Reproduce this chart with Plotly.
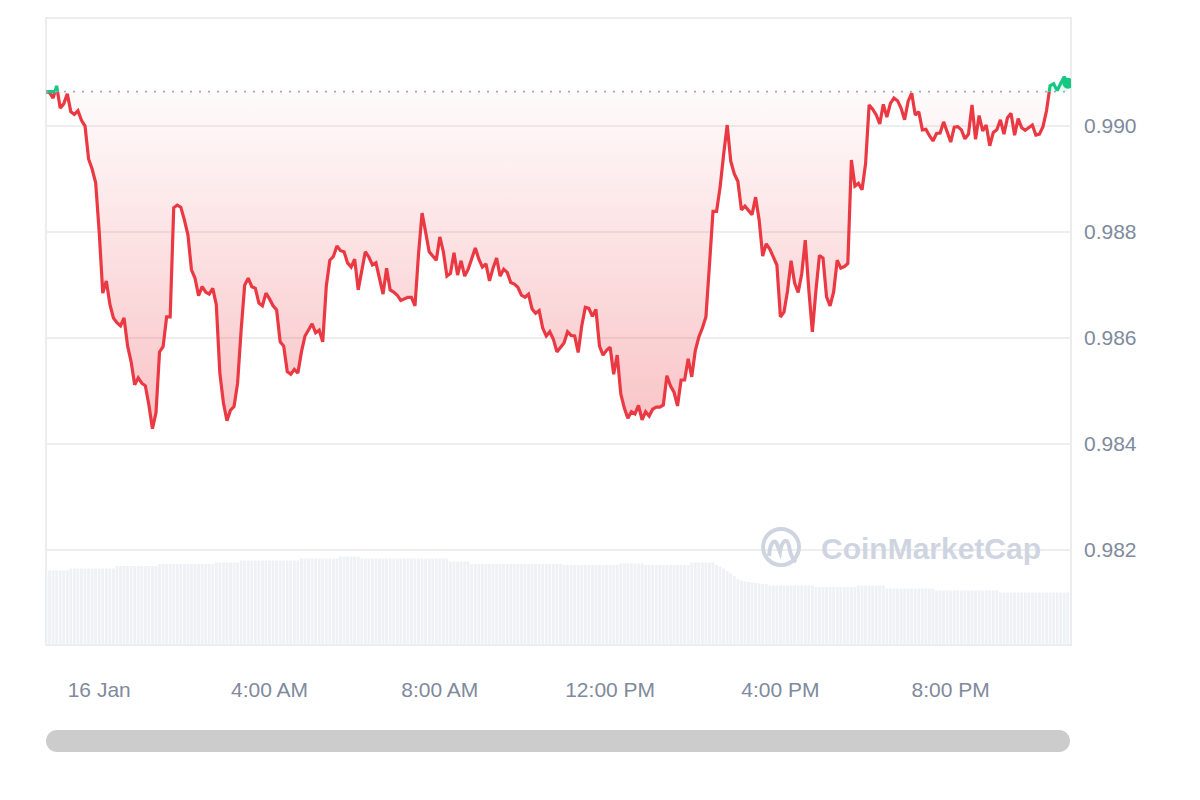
import plotly.graph_objects as go
import pandas as pd

# ---------------- data ----------------
start_time = "2024-01-15 22:45"          # first sample (5-minute steps)
price = [
    0.99065, 0.99063, 0.99053, 0.99076, 0.99034, 0.99042, 0.99061, 0.99027, 0.99022, 0.99029,
    0.99011, 0.99000, 0.98938, 0.98919, 0.98893, 0.98800, 0.98685, 0.98708, 0.98664, 0.98638,
    0.98629, 0.98623, 0.98638, 0.98585, 0.98555, 0.98512, 0.98525, 0.98515, 0.98510, 0.98474,
    0.98429, 0.98459, 0.98574, 0.98584, 0.98640, 0.98640, 0.98846, 0.98851, 0.98847, 0.98823,
    0.98795, 0.98729, 0.98713, 0.98680, 0.98697, 0.98687, 0.98683, 0.98694, 0.98663, 0.98534,
    0.98478, 0.98444, 0.98464, 0.98471, 0.98515, 0.98615, 0.98700, 0.98713, 0.98697, 0.98694,
    0.98666, 0.98661, 0.98685, 0.98674, 0.98661, 0.98653, 0.98593, 0.98585, 0.98537, 0.98532,
    0.98541, 0.98534, 0.98574, 0.98604, 0.98615, 0.98627, 0.98610, 0.98615, 0.98593, 0.98698,
    0.98747, 0.98754, 0.98774, 0.98765, 0.98763, 0.98742, 0.98734, 0.98749, 0.98691, 0.98727,
    0.98763, 0.98753, 0.98738, 0.98742, 0.98712, 0.98683, 0.98732, 0.98691, 0.98687, 0.98681,
    0.98671, 0.98674, 0.98677, 0.98677, 0.98661, 0.98759, 0.98836, 0.98800, 0.98763, 0.98755,
    0.98747, 0.98791, 0.98763, 0.98717, 0.98722, 0.98761, 0.98719, 0.98746, 0.98717, 0.98730,
    0.98751, 0.98770, 0.98749, 0.98734, 0.98740, 0.98708, 0.98732, 0.98751, 0.98717, 0.98730,
    0.98724, 0.98705, 0.98702, 0.98696, 0.98681, 0.98677, 0.98683, 0.98655, 0.98647, 0.98652,
    0.98619, 0.98604, 0.98612, 0.98598, 0.98574, 0.98582, 0.98591, 0.98612, 0.98605, 0.98604,
    0.98573, 0.98623, 0.98658, 0.98656, 0.98641, 0.98654, 0.98585, 0.98568, 0.98577, 0.98583,
    0.98532, 0.98568, 0.98495, 0.98468, 0.98449, 0.98461, 0.98457, 0.98473, 0.98446, 0.98461,
    0.98453, 0.98466, 0.98470, 0.98470, 0.98474, 0.98529, 0.98510, 0.98498, 0.98472, 0.98521,
    0.98521, 0.98561, 0.98527, 0.98576, 0.98602, 0.98619, 0.98640, 0.98738, 0.98839, 0.98839,
    0.98885, 0.98947, 0.99002, 0.98934, 0.98910, 0.98896, 0.98842, 0.98849, 0.98841, 0.98833,
    0.98866, 0.98823, 0.98755, 0.98778, 0.98768, 0.98752, 0.98738, 0.98640, 0.98649, 0.98689,
    0.98746, 0.98704, 0.98686, 0.98721, 0.98785, 0.98691, 0.98612, 0.98689, 0.98756, 0.98751,
    0.98678, 0.98661, 0.98687, 0.98747, 0.98732, 0.98735, 0.98741, 0.98936, 0.98887, 0.98892,
    0.98880, 0.98929, 0.99040, 0.99032, 0.99021, 0.99004, 0.99041, 0.99017, 0.99043, 0.99053,
    0.99048, 0.99034, 0.99012, 0.99047, 0.99062, 0.99021, 0.99027, 0.98993, 0.98994, 0.98982,
    0.98972, 0.98986, 0.98987, 0.99008, 0.98991, 0.98970, 0.98998, 0.98999, 0.98993, 0.98976,
    0.98985, 0.99040, 0.98975, 0.99020, 0.98991, 0.99002, 0.98963, 0.98988, 0.98993, 0.99012,
    0.98985, 0.99016, 0.99024, 0.98983, 0.99014, 0.98997, 0.98992, 0.98998, 0.99002, 0.98983,
    0.98985, 0.98999, 0.99029, 0.99076, 0.99080, 0.99067, 0.99081, 0.99093, 0.99081,
]
# rolling 24h volume (billion USD)
volume = (
    [1.49] * 7 + [1.53] * 13 + [1.58] * 12 + [1.62] * 16 + [1.65] * 7 + [1.69] * 17 +
    [1.73] * 11 + [1.77] * 6 + [1.73] * 25 + [1.67] * 6 + [1.62] * 26 + [1.60] * 16 +
    [1.63] * 7 + [1.60] * 13 + [1.65] * 7 + [1.60, 1.57, 1.53, 1.48, 1.43, 1.38] +
    [1.32, 1.29, 1.27, 1.26, 1.25, 1.24, 1.23, 1.22, 1.22] +
    [1.19] * 13 + [1.16] * 12 + [1.19] * 8 + [1.13] * 14 + [1.09] * 18 + [1.05] * 20
)
x_tick_times = ["2024-01-16 00:00", "2024-01-16 04:00", "2024-01-16 08:00",
                "2024-01-16 12:00", "2024-01-16 16:00", "2024-01-16 20:00"]
x_tick_labels = ["16 Jan", "4:00 AM", "8:00 AM", "12:00 PM", "4:00 PM", "8:00 PM"]
y_ticks = [0.982, 0.984, 0.986, 0.988, 0.990]
y_range = [0.98021, 0.99204]
x_range = ["2024-01-15 22:45", "2024-01-16 22:49:30"]

# ---------------- styles ----------------
RED = "#ea3943"
GREEN = "#16c784"
GREY_TXT = "#808a9d"
WM = "#cfd5e0"
FONT = "Liberation Sans, Arial, sans-serif"

times = list(pd.date_range(start_time, periods=len(price), freq="5min"))
base = price[0]

# split into red (below open) and green (at/above open) pieces
red_x, red_y, grn_x, grn_y = [], [], [], []
all_x, all_y = [], []
for i, (t, v) in enumerate(zip(times, price)):
    if i > 0:
        t0, v0 = times[i - 1], price[i - 1]
        if (v0 - base) * (v - base) < 0:
            f = (base - v0) / (v - v0)
            tc = t0 + (t - t0) * f
            red_x.append(tc); red_y.append(base)
            grn_x.append(tc); grn_y.append(base)
            all_x.append(tc); all_y.append(base)
            if v >= base:
                red_x.append(None); red_y.append(None)
            else:
                grn_x.append(None); grn_y.append(None)
    if v < base:
        red_x.append(t); red_y.append(v)
    else:
        grn_x.append(t); grn_y.append(v)
        if i == 0:
            red_x.append(t); red_y.append(v)
    all_x.append(t); all_y.append(v)

red_fill = [min(v, base) for v in all_y]
grn_fill = [max(v, base) for v in all_y]

fig = go.Figure()

# volume bars (secondary hidden axis)
fig.add_trace(go.Bar(x=times, y=volume, yaxis="y2", marker=dict(color="#eef1f5", line=dict(width=0)),
                     hoverinfo="skip", showlegend=False))

# red fill
fig.add_trace(go.Scatter(x=all_x, y=[base] * len(all_x), mode="lines", line=dict(width=0),
                         hoverinfo="skip", showlegend=False))
fig.add_trace(go.Scatter(x=all_x, y=red_fill, mode="lines", line=dict(width=0), fill="tonexty",
                         fillgradient=dict(type="vertical", start=min(price), stop=base,
                                           colorscale=[[0, "rgba(234,57,67,0.30)"], [1, "rgba(234,57,67,0.02)"]]),
                         hoverinfo="skip", showlegend=False))
# green fill
fig.add_trace(go.Scatter(x=all_x, y=[base] * len(all_x), mode="lines", line=dict(width=0),
                         hoverinfo="skip", showlegend=False))
fig.add_trace(go.Scatter(x=all_x, y=grn_fill, mode="lines", line=dict(width=0), fill="tonexty",
                         fillcolor="rgba(22,199,132,0.10)", hoverinfo="skip", showlegend=False))

# lines
fig.add_trace(go.Scatter(x=red_x, y=red_y, mode="lines", line=dict(color=RED, width=3.2),
                         connectgaps=False, showlegend=False))
fig.add_trace(go.Scatter(x=grn_x, y=grn_y, mode="lines", line=dict(color=GREEN, width=3.2),
                         connectgaps=False, showlegend=False))
fig.add_trace(go.Scatter(x=[times[-1]], y=[price[-1]], mode="markers",
                         marker=dict(color=GREEN, size=11), showlegend=False))

shapes = [
    # plot border
    dict(type="rect", xref="paper", yref="paper", x0=0, x1=1, y0=0, y1=1,
         line=dict(color="#e6e6e6", width=1.5), layer="below"),
    # opening price dotted line
    dict(type="line", xref="paper", yref="y", x0=0, x1=1, y0=base, y1=base,
         line=dict(color="#a3a9b6", width=1.6, dash="2px,7px")),
    # scrollbar
    dict(type="rect", xref="paper", yref="paper", xsizemode="pixel", ysizemode="pixel",
         xanchor=0, yanchor=0, x0=11, x1=1013, y0=-85, y1=-107,
         fillcolor="#cccccc", line=dict(width=0)),
    dict(type="circle", xref="paper", yref="paper", xsizemode="pixel", ysizemode="pixel",
         xanchor=0, yanchor=0, x0=0, x1=22, y0=-85, y1=-107,
         fillcolor="#cccccc", line=dict(width=0)),
    dict(type="circle", xref="paper", yref="paper", xsizemode="pixel", ysizemode="pixel",
         xanchor=0, yanchor=0, x0=1002, x1=1024, y0=-85, y1=-107,
         fillcolor="#cccccc", line=dict(width=0)),
    # watermark logo
    dict(type="circle", xref="paper", yref="paper", xsizemode="pixel", ysizemode="pixel",
         xanchor=0.7171, yanchor=0.1563, x0=-18, x1=18, y0=-18, y1=18,
         line=dict(color=WM, width=4)),
    dict(type="path", xref="paper", yref="paper", xsizemode="pixel", ysizemode="pixel",
         xanchor=0.7171, yanchor=0.1563,
         path="M -12,-9 C -11,4 -7,9 -4,3 L -1,-5 C 1,7 6,10 8,1 C 9,-6 11,-12 15,-15",
         line=dict(color=WM, width=4)),
]

fig.update_layout(
    width=1200, height=800,
    margin=dict(l=46, r=129, t=18, b=155, autoexpand=False),
    paper_bgcolor="white", plot_bgcolor="white",
    font=dict(family=FONT, color=GREY_TXT),
    showlegend=False,
    bargap=0.2,
    xaxis=dict(type="date", range=x_range, tickvals=x_tick_times, ticktext=x_tick_labels,
               showgrid=False, zeroline=False, showline=False, ticks="",
               tickfont=dict(size=21, color=GREY_TXT, family=FONT), ticklabelstandoff=30,
               fixedrange=True),
    yaxis=dict(side="right", range=y_range, tickvals=y_ticks, ticktext=[f"{v:.3f}" for v in y_ticks],
               showgrid=True, gridcolor="#eeeeee", gridwidth=1.5, zeroline=False, showline=False,
               ticks="", tickfont=dict(size=21, color=GREY_TXT, family=FONT), ticklabelstandoff=12),
    yaxis2=dict(overlaying="y", range=[0, 12.54], visible=False, showgrid=False),
    shapes=shapes,
    annotations=[dict(text="<b>CoinMarketCap</b>", xref="paper", yref="paper", x=0.8634, y=0.1547,
                      showarrow=False, font=dict(size=30, color=WM, family=FONT),
                      xanchor="center", yanchor="middle")],
)

fig.write_html("out.html")
